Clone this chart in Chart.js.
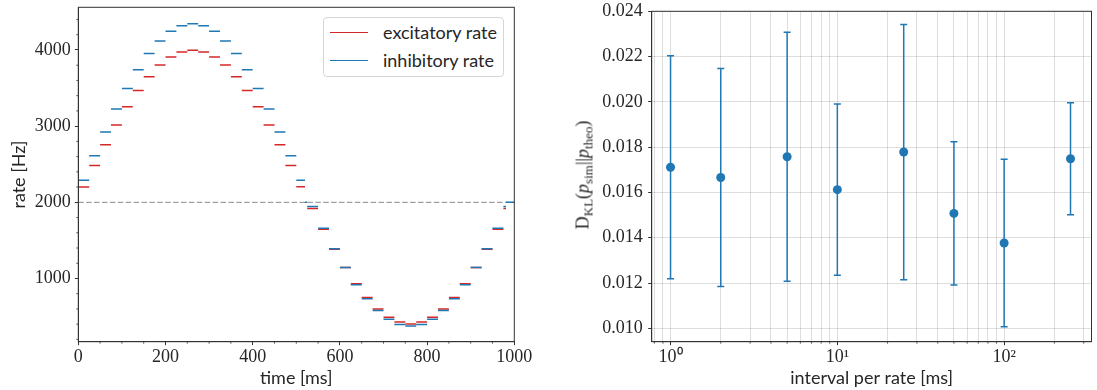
<!DOCTYPE html>
<html>
<head>
<meta charset="utf-8">
<script src="https://cdn.jsdelivr.net/npm/chart.js@4.4.1/dist/chart.umd.min.js"></script>
<style>
	body { margin: 0; background: #fff; }
	#wrap { position: relative; width: 1097px; height: 390px; overflow: hidden; }
	canvas { position: absolute; top: 0; }
	#rates { left: 0; }
	#kl { left: 540px; }
	.legend {
		position: absolute; left: 323px; top: 17px; width: 181px; height: 60px;
		box-sizing: border-box; border: 1px solid #d6d6d6; border-radius: 4px;
		background: #fff; font: 18px Lato; color: #262626;
	}
	.legend .row { position: absolute; left: 6px; height: 22px; display: flex; align-items: center; white-space: nowrap; }
	.legend .swatch { width: 38px; height: 0; border-top: 1.5px solid; margin-right: 15px; }
	.ylabel {
		position: absolute; left: 583px; top: 175px;
		transform: translate(-50%, -50%) rotate(-90deg);
		font: 18px "Liberation Serif", serif; color: #262626; white-space: nowrap;
	}
	.ylabel sub { font-size: 13px; vertical-align: -4px; line-height: 0; }
</style>
</head>
<body>
<div id="wrap">
	<canvas id="rates" width="540" height="390"></canvas>
	<canvas id="kl" width="557" height="390"></canvas>
	<div class="legend">
		<div class="row" style="top:3px"><span class="swatch" style="border-color:#d62728"></span>excitatory rate</div>
		<div class="row" style="top:31px"><span class="swatch" style="border-color:#1f77b4"></span>inhibitory rate</div>
	</div>
	<div class="ylabel">D<sub>KL</sub>(<i>p</i><sub>sim</sub>||<i>p</i><sub>theo</sub>)</div>
</div>
<script>
// rate steps, 25 ms each [ms]
const binStart = [0, 25, 50, 75, 100, 125, 150, 175, 200, 225, 250, 275, 300, 325, 350, 375, 400, 425, 450, 475,
	500, 525, 550, 575, 600, 625, 650, 675, 700, 725, 750, 775, 800, 825, 850, 875, 900, 925, 950, 975]
const binEnd = [25, 50, 75, 100, 125, 150, 175, 200, 225, 250, 275, 300, 325, 350, 375, 400, 425, 450, 475, 500,
	520, 550, 575, 600, 625, 650, 675, 700, 725, 750, 775, 800, 825, 850, 875, 900, 925, 950, 975, 981]
const excRate = [2200, 2484, 2754, 3016, 3255, 3468, 3647, 3804, 3908, 3974, 3996, 3974, 3908, 3804, 3647, 3468, 3255, 3016, 2754, 2484,
	2205, 1920, 1645, 1385, 1145, 930, 750, 600, 492, 427, 404, 427, 492, 600, 750, 930, 1145, 1385, 1645, 1920]
const inhRate = [2288, 2610, 2924, 3225, 3494, 3739, 3952, 4118, 4244, 4318, 4344, 4318, 4244, 4118, 3952, 3739, 3494, 3225, 2924, 2610,
	2288, 1945, 1660, 1390, 1145, 918, 733, 578, 465, 397, 376, 397, 465, 578, 733, 918, 1145, 1390, 1660, 1945]
// short inhibitory pieces sitting on the baseline
const inhBaseStart = [520, 981]
const inhBaseEnd = [525, 1000]
const inhBaseRate = [2000, 2000]
const baseRate = 2000

const timeTicks = [0, 50, 100, 150, 200, 250, 300, 350, 400, 450, 500, 550, 600, 650, 700, 750, 800, 850, 900, 950, 1000]
const rateTicks = [200, 400, 600, 800, 1000, 1200, 1400, 1600, 1800, 2000, 2200, 2400, 2600, 2800, 3000,
	3200, 3400, 3600, 3800, 4000, 4200, 4400]

// KL divergence vs. interval length
const intervals = [1, 2, 5, 10, 25, 50, 100, 250]
const klMean = [0.017115, 0.01666, 0.017575, 0.016125, 0.017785, 0.015075, 0.01377, 0.01749]
const klErr = [0.004925, 0.00481, 0.0055, 0.003785, 0.005635, 0.003165, 0.0037, 0.00247]
const intervalTicks = [0.8, 0.9, 1, 2, 3, 4, 5, 6, 7, 8, 9, 10, 20, 30, 40, 50, 60, 70, 80, 90, 100, 200, 300]
const klTicks = [0.010, 0.012, 0.014, 0.016, 0.018, 0.020, 0.022, 0.024]

const red = '#d62728'
const blue = '#1f77b4'
const ink = '#262626'
const spine = '#333333'
const tickFont = { family: "'Liberation Serif', 'Times New Roman', serif", size: 18 }
const titleFont = { family: 'Lato', size: 18 }
const sup = { 0: '\u2070', 1: '\u00b9', 2: '\u00b2', 3: '\u00b3' }

function segments(starts, ends, values) {
	const pts = []
	starts.forEach((t0, i) => {
		pts.push({ x: t0, y: values[i] }, { x: ends[i], y: values[i] }, { x: ends[i], y: null })
	})
	return pts
}

// box around the plot area plus short minor tick marks
function frame(isMinorX, isMinorY) {
	return {
		id: 'frame',
		afterDraw(chart) {
			const { ctx, chartArea: a } = chart
			ctx.save()
			ctx.strokeStyle = spine
			ctx.lineWidth = 1
			ctx.strokeRect(a.left, a.top, a.right - a.left, a.bottom - a.top)
			ctx.lineWidth = 0.8
			chart.scales.x.ticks.forEach((t) => {
				if (!isMinorX(t.value)) return
				const p = chart.scales.x.getPixelForValue(t.value)
				ctx.beginPath()
				ctx.moveTo(p, a.bottom)
				ctx.lineTo(p, a.bottom + 2)
				ctx.stroke()
			})
			chart.scales.y.ticks.forEach((t) => {
				if (!isMinorY(t.value)) return
				const p = chart.scales.y.getPixelForValue(t.value)
				ctx.beginPath()
				ctx.moveTo(a.left, p)
				ctx.lineTo(a.left - 2, p)
				ctx.stroke()
			})
			ctx.restore()
		},
	}
}

const fixedTicks = (list) => (scale) => {
	scale.ticks = list.map((v) => ({ value: v }))
}
const noLabelPadding = (scale) => {
	scale.paddingLeft = 0
	scale.paddingRight = 0
	scale.paddingTop = 0
	scale.paddingBottom = 0
}

const minorTime = (v) => v % 200 !== 0
const minorRate = (v) => v % 1000 !== 0

new Chart(document.getElementById('rates'), {
	type: 'scatter',
	data: {
		datasets: [
			{
				label: 'inhibitory rate',
				data: segments(binStart.concat(inhBaseStart), binEnd.concat(inhBaseEnd), inhRate.concat(inhBaseRate)),
				showLine: true,
				borderColor: blue,
				borderWidth: 1.5,
				pointRadius: 0,
			},
			{
				label: 'excitatory rate',
				data: segments(binStart, binEnd, excRate),
				showLine: true,
				borderColor: red,
				borderWidth: 1.5,
				pointRadius: 0,
			},
			{
				label: 'baseline',
				data: [{ x: 0, y: baseRate }, { x: 1000, y: baseRate }],
				showLine: true,
				borderColor: 'rgba(150,150,150,0.9)',
				borderWidth: 1.2,
				borderDash: [5.5, 2.4],
				pointRadius: 0,
			},
		],
	},
	options: {
		responsive: false,
		animation: false,
		events: [],
		layout: { padding: { left: 0, top: 7.3, right: 25.7, bottom: 0 } },
		plugins: { legend: { display: false }, tooltip: { enabled: false } },
		scales: {
			x: {
				type: 'linear',
				min: 0,
				max: 1000,
				afterBuildTicks: fixedTicks(timeTicks),
				afterFit: (s) => { s.height = 48.3; noLabelPadding(s) },
				ticks: {
					autoSkip: false,
					maxRotation: 0,
					padding: 1,
					font: tickFont,
					color: ink,
					callback: (v) => (minorTime(v) ? '' : String(v)),
				},
				grid: {
					drawOnChartArea: false,
					tickLength: 3.5,
					tickColor: (c) => (c.tick && minorTime(c.tick.value) ? 'rgba(0,0,0,0)' : spine),
				},
				border: { color: spine },
				title: { display: true, text: 'time [ms]', font: titleFont, color: ink, padding: { top: 0, bottom: 1.2 } },
			},
			y: {
				min: 170,
				max: 4560,
				afterBuildTicks: fixedTicks(rateTicks),
				afterFit: (s) => { s.width = 78.3; noLabelPadding(s) },
				ticks: {
					autoSkip: false,
					padding: 4,
					font: tickFont,
					color: ink,
					callback: (v) => (minorRate(v) ? '' : String(v)),
				},
				grid: {
					drawOnChartArea: false,
					tickLength: 3.5,
					tickColor: (c) => (c.tick && minorRate(c.tick.value) ? 'rgba(0,0,0,0)' : spine),
				},
				border: { color: spine },
				title: { display: true, text: 'rate [Hz]', font: titleFont, color: ink, padding: { top: 8.2, bottom: 0 } },
			},
		},
	},
	plugins: [frame(minorTime, minorRate)],
})

const errorPts = []
intervals.forEach((x, i) => {
	errorPts.push({ x, y: klMean[i] - klErr[i] }, { x, y: klMean[i] + klErr[i] }, { x, y: null })
})
const minorInterval = (v) => !Number.isInteger(Math.round(Math.log10(v) * 1e6) / 1e6)

new Chart(document.getElementById('kl'), {
	type: 'scatter',
	data: {
		datasets: [
			{
				label: 'mean',
				data: intervals.map((x, i) => ({ x, y: klMean[i] })),
				pointRadius: 4.5,
				pointBackgroundColor: blue,
				pointBorderWidth: 0,
			},
			{
				label: 'spread',
				data: errorPts,
				showLine: true,
				borderColor: blue,
				borderWidth: 1.5,
				pointStyle: 'line',
				pointRadius: 3.5,
				pointBorderWidth: 1.5,
				pointBorderColor: blue,
			},
		],
	},
	options: {
		responsive: false,
		animation: false,
		events: [],
		layout: { padding: { left: 0, top: 11.3, right: 1, bottom: 0 } },
		plugins: { legend: { display: false }, tooltip: { enabled: false } },
		scales: {
			x: {
				type: 'logarithmic',
				min: 0.771,
				max: 334,
				afterBuildTicks: fixedTicks(intervalTicks),
				afterFit: (s) => { s.height = 48.3; noLabelPadding(s) },
				ticks: {
					autoSkip: false,
					maxRotation: 0,
					padding: 1,
					font: tickFont,
					color: ink,
					callback: (v) => (minorInterval(v) ? '' : '10' + sup[Math.round(Math.log10(v))]),
				},
				grid: {
					color: 'rgba(0,0,0,0.13)',
					lineWidth: 1,
					tickLength: 3.5,
					tickColor: (c) => (c.tick && minorInterval(c.tick.value) ? 'rgba(0,0,0,0)' : spine),
				},
				border: { color: spine },
				title: { display: true, text: 'interval per rate [ms]', font: titleFont, color: ink, padding: { top: 0, bottom: 1.2 } },
			},
			y: {
				min: 0.00941,
				max: 0.024,
				afterBuildTicks: fixedTicks(klTicks),
				afterFit: (s) => { s.width = 111.7; noLabelPadding(s) },
				ticks: {
					autoSkip: false,
					padding: 5.5,
					font: tickFont,
					color: ink,
					callback: (v) => v.toFixed(3),
				},
				grid: {
					color: 'rgba(0,0,0,0.13)',
					lineWidth: 1,
					tickLength: 3.5,
					tickColor: spine,
				},
				border: { color: spine },
			},
		},
	},
	plugins: [frame(minorInterval, () => false)],
})
</script>
</body>
</html>
